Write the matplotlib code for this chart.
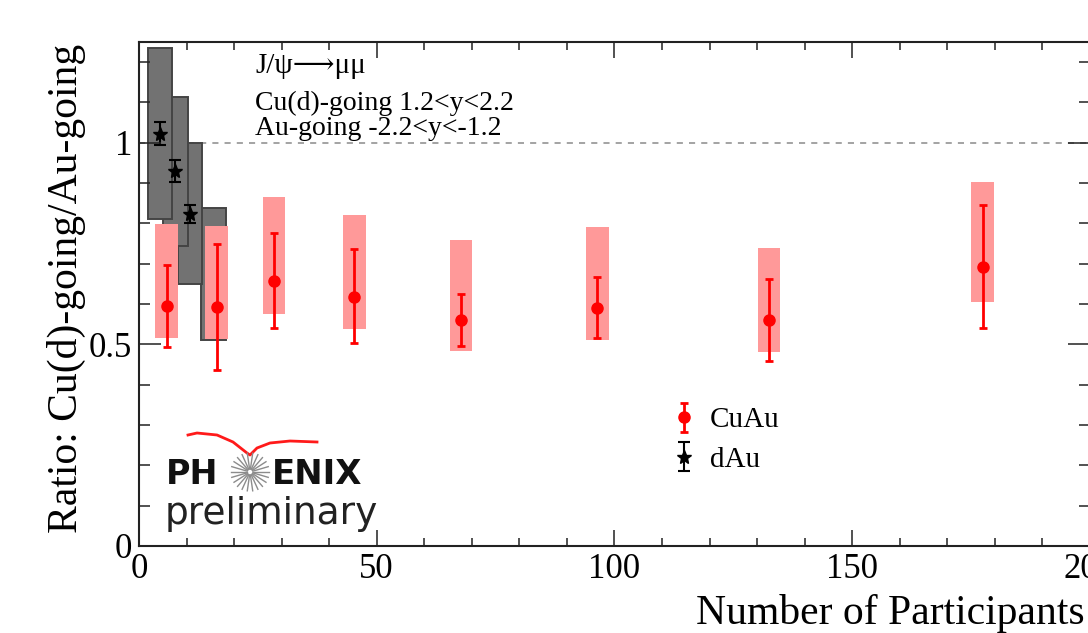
import matplotlib
matplotlib.use("Agg")
import matplotlib.pyplot as plt
from matplotlib.patches import Rectangle
from matplotlib.lines import Line2D
from matplotlib.ticker import MultipleLocator, FixedLocator, FixedFormatter
import numpy as np

# ---------------- data ----------------
cuau_npart = [5.8, 16.3, 28.4, 45.3, 67.7, 96.4, 132.5, 177.4]
cuau_ratio = [0.595, 0.592, 0.658, 0.617, 0.560, 0.590, 0.560, 0.691]
cuau_stat_lo = [0.101, 0.156, 0.118, 0.114, 0.065, 0.074, 0.102, 0.151]
cuau_stat_hi = [0.102, 0.156, 0.119, 0.119, 0.065, 0.076, 0.102, 0.154]
cuau_sys_lo = [0.515, 0.513, 0.575, 0.538, 0.483, 0.511, 0.482, 0.606]
cuau_sys_hi = [0.798, 0.794, 0.866, 0.822, 0.759, 0.791, 0.740, 0.902]

dau_npart = [4.4, 7.6, 10.7, 15.6]
dau_ratio = [1.023, 0.930, 0.824, 0.674]
dau_stat = [0.029, 0.027, 0.022, 0.025]
dau_sys_lo = [0.812, 0.745, 0.651, 0.511]
dau_sys_hi = [1.234, 1.114, 1.000, 0.838]

x_ticks = [0, 50, 100, 150, 200]
x_tick_labels = ["0", "50", "100", "150", "200"]
y_ticks = [0, 0.5, 1]
y_tick_labels = ["0", "0.5", "1"]

x_title = "Number of Participants"
y_title = "Ratio: Cu(d)-going/Au-going"
notes = ["J/\u03c8\u27f6\u03bc\u03bc", "Cu(d)-going 1.2<y<2.2", "Au-going -2.2<y<-1.2"]
legend_labels = ["CuAu", "dAu"]

# ---------------- style ----------------
plt.rcParams['font.family'] = ['Liberation Serif', 'DejaVu Serif', 'DejaVu Sans']
W, H = 1088, 633
fig = plt.figure(figsize=(W / 100, H / 100), dpi=100)
fig.patch.set_facecolor('white')


def fx(x):
    return x / W


def fy(y):
    return 1 - y / H


ax_l, ax_r, ax_t, ax_b = 139, 1090, 42, 546
ax = fig.add_axes([fx(ax_l), fy(ax_b), (ax_r - ax_l) / W, (ax_b - ax_t) / H])
ax.set_xlim(0, 200)
ax.set_ylim(0, 1.25)

# reference line at unity
ax.axhline(1.0, color='#8a8a8a', lw=1.1, ls=(0, (4, 4)), zorder=0.5)

# dAu systematic boxes (drawn from last to first)
dau_half = 2.6
for i in reversed(range(len(dau_npart))):
    ax.add_patch(Rectangle((dau_npart[i] - dau_half, dau_sys_lo[i]), 2 * dau_half,
                           dau_sys_hi[i] - dau_sys_lo[i], facecolor='#727272',
                           edgecolor='#444444', lw=1.4, zorder=1))

# dAu points
h_dau = ax.errorbar(dau_npart, dau_ratio, yerr=dau_stat, fmt='*', color='black',
                    ms=10, lw=1.5, capsize=4, capthick=1.5, zorder=1.2)

# CuAu systematic boxes
cu_half = 2.35
for x, lo, hi in zip(cuau_npart, cuau_sys_lo, cuau_sys_hi):
    ax.add_patch(Rectangle((x - cu_half, lo), 2 * cu_half, hi - lo,
                           facecolor='#ff9999', edgecolor='none', zorder=1.5))

# CuAu points
h_cu = ax.errorbar(cuau_npart, cuau_ratio, yerr=[cuau_stat_lo, cuau_stat_hi], fmt='o',
                   color='#ff0000', ms=8, lw=2, capsize=3.2, capthick=2, zorder=4)

# ticks
ax.xaxis.set_major_locator(FixedLocator(x_ticks))
ax.xaxis.set_major_formatter(FixedFormatter(x_tick_labels))
ax.xaxis.set_minor_locator(MultipleLocator(10))
ax.yaxis.set_major_locator(FixedLocator(y_ticks))
ax.yaxis.set_major_formatter(FixedFormatter(y_tick_labels))
ax.yaxis.set_minor_locator(MultipleLocator(0.1))
ax.tick_params(axis='both', which='both', direction='in', top=True, right=True,
               color='#222222')
ax.tick_params(axis='x', which='major', length=11.5, width=1.1, labelsize=25, pad=5)
ax.tick_params(axis='x', which='minor', length=5.8, width=1.1)
ax.tick_params(axis='y', which='major', length=16, width=1.1, labelsize=25, pad=5)
ax.tick_params(axis='y', which='minor', length=8, width=1.1)
for s in ax.spines.values():
    s.set_linewidth(1.5)
    s.set_color('#222222')

# axis titles
fig.text(fx(1085), fy(624), x_title, ha='right', va='baseline', fontsize=30)
fig.text(fx(66), fy(44), y_title, ha='center', va='top', rotation=90, fontsize=30)

# annotation lines
for txt, base, fs in zip(notes, [73, 110, 135], [21, 20, 20]):
    fig.text(fx(255), fy(base), txt, ha='left', va='baseline', fontsize=fs)

# legend
leg = ax.legend([h_cu, h_dau], legend_labels, loc='center left',
                bbox_to_anchor=(fx(672), fy(440)), bbox_transform=fig.transFigure,
                frameon=False, fontsize=21, handlelength=0.85, handletextpad=0.45,
                labelspacing=0.45, borderpad=0, borderaxespad=0)

# PHENIX preliminary logo
swoosh_x = [188, 197, 217, 233, 247, 250, 257, 270, 290, 317]
swoosh_y = [435, 433, 435, 442, 453, 455, 448, 443, 441, 442]
fig.add_artist(Line2D([fx(v) for v in swoosh_x], [fy(v) for v in swoosh_y],
                      transform=fig.transFigure, color='#ff1a1a', lw=2.0))
fig.text(fx(218), fy(484), "PH", ha='right', va='baseline', fontsize=24,
         fontweight='bold', family='DejaVu Sans', color='#111111')
fig.text(fx(272), fy(484), "ENIX", ha='left', va='baseline', fontsize=24.5,
         fontweight='bold', family='DejaVu Sans', color='#111111')
cx, cy, r0, r1 = 250, 472, 3, 19
for a in np.linspace(0, 2 * np.pi, 22, endpoint=False):
    fig.add_artist(Line2D([fx(cx + r0 * np.cos(a)), fx(cx + r1 * np.cos(a))],
                          [fy(cy + r0 * np.sin(a)), fy(cy + r1 * np.sin(a))],
                          transform=fig.transFigure, color='#8c8c8c', lw=1.0))
fig.text(fx(165), fy(524), "preliminary", ha='left', va='baseline', fontsize=27,
         family='DejaVu Sans', color='#222222')

fig.savefig("out.png", dpi=100)
